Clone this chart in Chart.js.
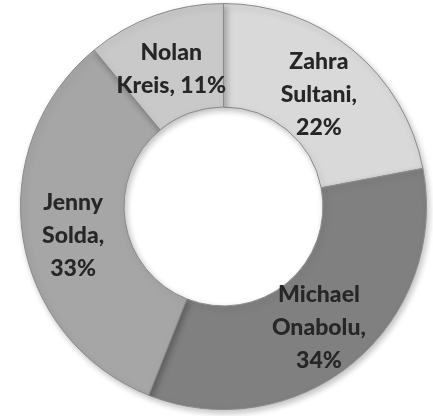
<!DOCTYPE html>
<html>
<head>
<meta charset="utf-8">
<script src="https://cdn.jsdelivr.net/npm/chart.js@4.4.1/dist/chart.umd.min.js"></script>
<style>
  html, body { margin: 0; padding: 0; background: #fff; }
  #wrap { width: 433px; height: 416px; }
</style>
</head>
<body>
<div id="wrap"><canvas id="donutChart"></canvas></div>
<script>
// dados do gráfico
const names = ['Zahra Sultani', 'Michael Onabolu', 'Jenny Solda', 'Nolan Kreis'];
const values = [22, 34, 33, 11];
const labelLines = [
  ['Zahra', 'Sultani,', '22%'],
  ['Michael', 'Onabolu,', '34%'],
  ['Jenny', 'Solda,', '33%'],
  ['Nolan', 'Kreis, 11%']
];
const fills = ['#d9d9d9', '#808080', '#a6a6a6', '#c9c9c9'];

// gradiente radial para dar um leve efeito de relevo
function bevel(ctx) {
  const chart = ctx.chart;
  const arc = chart.getDatasetMeta(0).data[ctx.dataIndex];
  if (!arc || !arc.outerRadius) return fills[ctx.dataIndex];
  const c = chart.ctx;
  const inner = arc.innerRadius, outer = arc.outerRadius;
  const g = c.createRadialGradient(arc.x, arc.y, inner, arc.x, arc.y, outer);
  const base = fills[ctx.dataIndex];
  g.addColorStop(0, shade(base, -18));
  g.addColorStop(0.08, shade(base, 6));
  g.addColorStop(0.15, base);
  g.addColorStop(0.85, base);
  g.addColorStop(0.93, shade(base, 8));
  g.addColorStop(1, shade(base, -22));
  return g;
}

function shade(hex, amt) {
  const n = parseInt(hex.slice(1), 16);
  const clamp = v => Math.max(0, Math.min(255, v));
  const r = clamp((n >> 16) + amt), gg = clamp(((n >> 8) & 255) + amt), b = clamp((n & 255) + amt);
  return 'rgb(' + r + ',' + gg + ',' + b + ')';
}

// sombra suave sob o anel
const ringShadow = {
  id: 'ringShadow',
  beforeDatasetsDraw(chart) {
    const c = chart.ctx;
    c.save();
    c.shadowColor = 'rgba(0,0,0,0.25)';
    c.shadowBlur = 6;
    c.shadowOffsetX = 2;
    c.shadowOffsetY = 3;
  },
  afterDatasetsDraw(chart) {
    chart.ctx.restore();
  }
};

// rótulos dentro das fatias
const sliceLabels = {
  id: 'sliceLabels',
  afterDatasetsDraw(chart) {
    const c = chart.ctx;
    const meta = chart.getDatasetMeta(0);
    c.save();
    c.fillStyle = '#262626';
    c.font = '900 23px Lato, "Open Sans", sans-serif';
    c.textAlign = 'center';
    c.textBaseline = 'middle';
    const lh = 33;
    meta.data.forEach((arc, i) => {
      const p = arc.tooltipPosition();
      const lines = labelLines[i];
      const y0 = p.y + 5 - (lines.length - 1) * lh / 2;
      lines.forEach((t, k) => c.fillText(t, p.x - 1, y0 + k * lh));
    });
    c.restore();
  }
};

new Chart(document.getElementById('donutChart'), {
  type: 'doughnut',
  data: {
    labels: names,
    datasets: [{
      data: values,
      backgroundColor: bevel,
      borderColor: '#8a8a8a',
      borderWidth: 1
    }]
  },
  options: {
    responsive: true,
    maintainAspectRatio: false,
    animation: false,
    cutout: '49%',
    layout: { padding: { top: 3, bottom: 6, left: 15, right: 1 } },
    plugins: {
      legend: { display: false },
      tooltip: { enabled: false }
    }
  },
  plugins: [ringShadow, sliceLabels]
});
</script>
</body>
</html>
